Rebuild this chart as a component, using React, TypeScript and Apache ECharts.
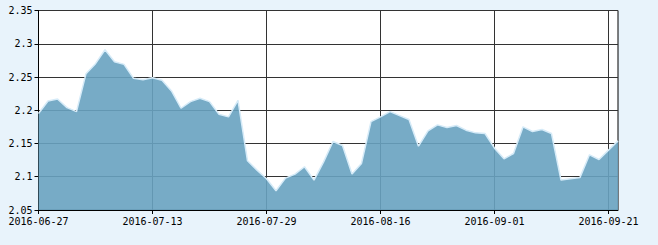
import React, { useEffect, useRef } from "react";
import * as echarts from "echarts";

const dates: string[] = [
  "2016-06-27", "2016-06-28", "2016-06-29", "2016-06-30", "2016-07-01",
  "2016-07-04", "2016-07-05", "2016-07-06", "2016-07-07", "2016-07-08",
  "2016-07-11", "2016-07-12", "2016-07-13", "2016-07-14", "2016-07-15",
  "2016-07-18", "2016-07-19", "2016-07-20", "2016-07-21", "2016-07-22",
  "2016-07-25", "2016-07-26", "2016-07-27", "2016-07-28", "2016-07-29",
  "2016-08-01", "2016-08-02", "2016-08-03", "2016-08-04", "2016-08-05",
  "2016-08-08", "2016-08-09", "2016-08-10", "2016-08-11", "2016-08-12",
  "2016-08-15", "2016-08-16", "2016-08-17", "2016-08-18", "2016-08-19",
  "2016-08-22", "2016-08-23", "2016-08-24", "2016-08-25", "2016-08-26",
  "2016-08-29", "2016-08-30", "2016-08-31", "2016-09-01", "2016-09-02",
  "2016-09-05", "2016-09-06", "2016-09-07", "2016-09-08", "2016-09-09",
  "2016-09-12", "2016-09-13", "2016-09-14",
  "2016-09-19", "2016-09-20", "2016-09-21", "2016-09-22",
];

const values: number[] = [
  2.195, 2.214, 2.217, 2.204, 2.198,
  2.255, 2.270, 2.291, 2.273, 2.269,
  2.248, 2.246, 2.249, 2.245, 2.229,
  2.203, 2.213, 2.218, 2.213, 2.194,
  2.190, 2.215, 2.124, 2.110, 2.097,
  2.079, 2.098, 2.104, 2.115, 2.095,
  2.122, 2.153, 2.147, 2.104, 2.120,
  2.183, 2.190, 2.198, 2.192, 2.186,
  2.146, 2.169, 2.178, 2.174, 2.177,
  2.170, 2.166, 2.165, 2.143, 2.127,
  2.135, 2.175, 2.168, 2.171, 2.165,
  2.095, 2.097, 2.099, 2.133, 2.126,
  2.140, 2.154,
];

const yTicks: number[] = [2.05, 2.1, 2.15, 2.2, 2.25, 2.3, 2.35];

export default function App() {
  const ref = useRef<HTMLDivElement>(null);
  useEffect(() => {
    if (!ref.current) return;
    const chart = echarts.init(ref.current, undefined, { renderer: "svg" });
    const font = "'DejaVu Sans Mono', 'Liberation Mono', monospace";
    chart.setOption({
      animation: false,
      backgroundColor: "#e8f3fb",
      grid: {
        left: 38.5,
        right: 40,
        top: 10.5,
        bottom: 35,
        containLabel: false,
        show: true,
        backgroundColor: "#ffffff",
        borderColor: "#000000",
        borderWidth: 1,
      },
      xAxis: {
        type: "category",
        data: dates,
        boundaryGap: false,
        axisLine: { lineStyle: { color: "#000", width: 1 } },
        axisTick: { show: true, interval: 11, length: 4, lineStyle: { color: "#000" } },
        axisLabel: {
          interval: 11,
          color: "#000",
          fontFamily: font,
          fontSize: 10,
          margin: 6,
        },
        splitLine: { show: true, interval: 11, lineStyle: { color: "#333", width: 1 } },
      },
      yAxis: {
        type: "value",
        min: yTicks[0],
        max: yTicks[yTicks.length - 1],
        interval: 0.05,
        axisLine: { show: true, lineStyle: { color: "#000", width: 1 } },
        axisTick: { show: true, length: 4, lineStyle: { color: "#000" } },
        axisLabel: {
          color: "#000",
          fontFamily: font,
          fontSize: 10,
          margin: 6,
          formatter: (v: number) => String(parseFloat(v.toFixed(2))),
        },
        splitLine: { show: true, lineStyle: { color: "#333", width: 1 } },
      },
      series: [
        {
          type: "line",
          data: values,
          symbol: "none",
          lineStyle: { color: "#d6ebf8", width: 1.5 },
          areaStyle: { color: "#68a2c0", opacity: 0.9 },
        },
      ],
    });
    return () => chart.dispose();
  }, []);
  return <div ref={ref} style={{ width: 658, height: 245, position: "absolute", left: 0, top: 0 }} />;
}
